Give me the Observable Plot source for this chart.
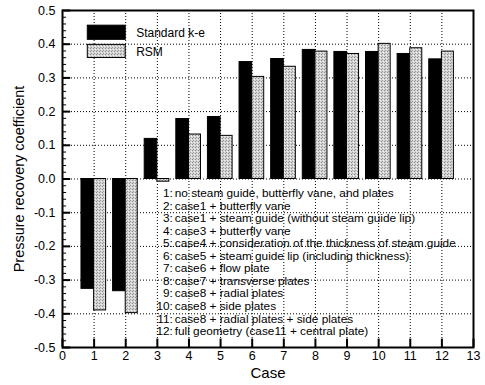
<!DOCTYPE html>
<html><head><meta charset="utf-8">
<script src="https://cdn.jsdelivr.net/npm/d3@7"></script>
<script src="https://cdn.jsdelivr.net/npm/@observablehq/plot@0.6"></script>
<style>
body{margin:0;background:#fff;}
#chart{position:relative;width:485px;height:385px;}
svg{font-family:"Liberation Sans",Arial,sans-serif;}
</style></head>
<body><div id="chart"></div>
<script>
const cases = [1,2,3,4,5,6,7,8,9,10,11,12];
const standardKE = [-0.326,-0.333,0.119,0.178,0.184,0.347,0.356,0.383,0.377,0.377,0.371,0.355];
const rsm = [-0.390,-0.398,-0.008,0.132,0.128,0.303,0.333,0.378,0.371,0.401,0.388,0.378];
const seriesNames = ["Standard k-e","RSM"];
const caseNumbers = ["1:","2:","3:","4:","5:","6:","7:","8:","9:","10:","11:","12:"];
const caseDescriptions = [
  "no steam guide, butterfly vane, and plates",
  "case1 + butterfly vane",
  "case1 + steam guide (without steam guide lip)",
  "case3 + butterfly vane",
  "case4 + consideration of the thickness of steam guide",
  "case5 + steam guide lip (including thickness)",
  "case6 + flow plate",
  "case7 + transverse plates",
  "case8 + radial plates",
  "case8 + side plates",
  "case8 + radial plates + side plates",
  "full geometry (case11 + central plate)"
];
const xTicks = d3.range(0,14);
const yTicks = d3.range(-5,6).map(d=>d/10);
const yMinor = d3.range(-25,26).map(d=>d/50);

const bars = [];
cases.forEach((c,i)=>{
  bars.push({x1:c-0.4,x2:c,y:standardKE[i],s:seriesNames[0]});
  bars.push({x1:c,x2:c+0.38,y:rsm[i],s:seriesNames[1]});
});
const notes = caseNumbers.map((n,i)=>({n,d:caseDescriptions[i],y:-0.042-i*0.0373}));
const legend = [
  {s:seriesNames[0],y1:0.413,y2:0.455,ty:0.434},
  {s:seriesNames[1],y1:0.359,y2:0.398,ty:0.377}
];
const fillOf = s => s===seriesNames[0] ? "#000" : "url(#dither)";

const plot = Plot.plot({
  width:485,height:385,
  marginLeft:62,marginRight:12,marginTop:10,marginBottom:38,
  style:{fontFamily:"Liberation Sans, Arial, sans-serif",fontSize:"12px",color:"#000",background:"#fff"},
  x:{domain:[0,13],axis:null},
  y:{domain:[-0.5,0.5],axis:null},
  marks:[
    Plot.ruleX(xTicks.slice(1,-1),{stroke:"#000",strokeWidth:1,strokeDasharray:"1,2"}),
    Plot.ruleY(yTicks.slice(1,-1),{stroke:"#000",strokeWidth:1,strokeDasharray:"1,2"}),
    Plot.rect(bars,{x1:"x1",x2:"x2",y1:0,y2:"y",fill:d=>fillOf(d.s),stroke:"#000",strokeWidth:1}),
    // minor/major ticks
    Plot.ruleY(yMinor,{x1:0,x2:0.13,stroke:"#000",strokeWidth:1}),
    Plot.ruleY(yTicks,{x1:0,x2:0.26,stroke:"#000",strokeWidth:2}),
    Plot.ruleX(xTicks,{y1:-0.5,y2:-0.475,stroke:"#000",strokeWidth:2}),
    Plot.frame({stroke:"#000",strokeWidth:2}),
    // legend
    Plot.rect(legend,{x1:0.8,x2:2.0,y1:"y1",y2:"y2",fill:d=>fillOf(d.s),stroke:"#000",strokeWidth:1}),
    Plot.text(legend,{x:2.33,y:"ty",text:"s",textAnchor:"start",fontSize:12}),
    // annotations
    Plot.text(notes,{x:3.49,y:"y",text:"n",textAnchor:"end",fontSize:11.8}),
    Plot.text(notes,{x:3.55,y:"y",text:"d",textAnchor:"start",fontSize:11.8}),
    // axis labels
    Plot.text(xTicks,{x:d=>d,y:-0.5,text:d=>String(d),dy:8,fontSize:12.5,textAnchor:"middle"}),
    Plot.text(yTicks,{x:0,y:d=>d,text:d=>d.toFixed(1),dx:-7,fontSize:12.5,textAnchor:"end"}),
    Plot.text(["Case"],{frameAnchor:"bottom",dy:30,fontSize:15,textAnchor:"middle",text:d=>d}),
    Plot.text(["Pressure recovery coefficient"],{frameAnchor:"left",dx:-43,rotate:-90,fontSize:14.5,textAnchor:"middle",text:d=>d})
  ]
});
const defs = d3.create("svg:defs");
const pat = defs.append("pattern").attr("id","dither").attr("width",3).attr("height",3).attr("patternUnits","userSpaceOnUse");
pat.append("rect").attr("width",3).attr("height",3).attr("fill","#d4d4d4");
pat.append("rect").attr("x",0).attr("y",0).attr("width",1).attr("height",1).attr("fill","#8a8a8a");
pat.append("rect").attr("x",1).attr("y",2).attr("width",1).attr("height",1).attr("fill","#9a9a9a");
pat.append("rect").attr("x",2).attr("y",1).attr("width",1).attr("height",1).attr("fill","#f0f0f0");
plot.insertBefore(defs.node(), plot.firstChild);
document.getElementById("chart").appendChild(plot);
</script></body></html>
